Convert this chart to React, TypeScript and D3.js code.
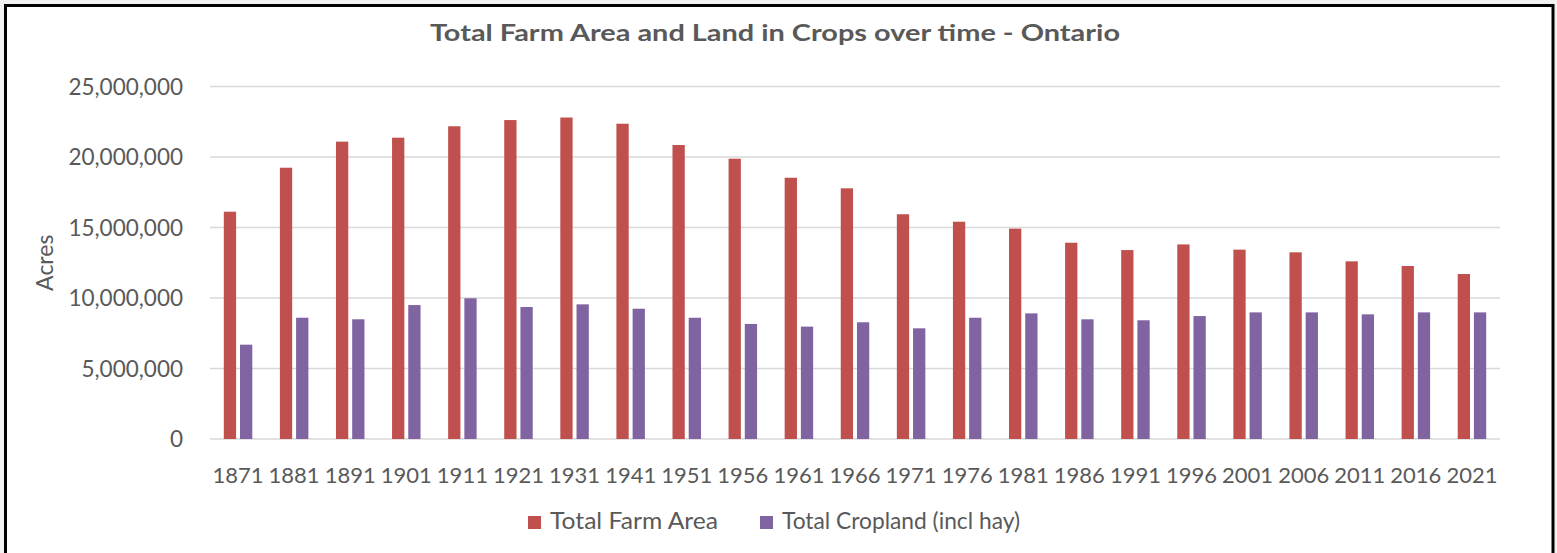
import React from "react";
import * as d3 from "d3";

const years = ["1871","1881","1891","1901","1911","1921","1931","1941","1951","1956","1961","1966","1971","1976","1981","1986","1991","1996","2001","2006","2011","2016","2021"];
const totalFarmArea = [16120000,19240000,21090000,21370000,22180000,22620000,22800000,22360000,20850000,19880000,18530000,17780000,15940000,15410000,14920000,13920000,13400000,13800000,13430000,13240000,12600000,12270000,11700000];
const totalCropland = [6690000,8600000,8490000,9500000,9980000,9360000,9550000,9240000,8600000,8160000,7970000,8280000,7850000,8600000,8910000,8490000,8420000,8720000,8980000,8980000,8840000,8980000,8980000];
const seriesNames = ["Total Farm Area", "Total Cropland (incl hay)"];
const seriesColors = ["#C0504D", "#8064A2"];
const yTicks = [0, 5000000, 10000000, 15000000, 20000000, 25000000];
const title = "Total Farm Area and Land in Crops over time - Ontario";
const yLabel = "Acres";

const W = 1557, H = 553;
const FONT = "Lato, 'Open Sans', sans-serif";
const TEXT = "#595959";

export default function App() {
  const left = 210, right = 1500, top = 86.5, bottom = 439;
  const x0 = d3.scaleBand<string>().domain(years).range([left, right]).padding(0);
  const bw = x0.bandwidth();
  const x1 = d3.scaleBand<string>().domain(seriesNames).range([bw * 0.246, bw * 0.754]).paddingInner(0.242);
  const y = d3.scaleLinear().domain([0, 25000000]).range([bottom, top]);
  const fmt = d3.format(",");
  const data = [totalFarmArea, totalCropland];

  return (
    <svg width={W} height={H} style={{ position: "absolute", left: 0, top: 0, display: "block" }} fontFamily={FONT}>
      <rect x={0} y={0} width={W} height={H} fill="#f2f2f0" />
      <rect x={5.5} y={5.5} width={1547.5} height={H} fill="#ffffff" stroke="#000" strokeWidth={3} />
      <text x={430} y={41} fontSize={23.5} fontWeight="bold" fill={TEXT} textLength={690} lengthAdjust="spacingAndGlyphs">{title}</text>
      {yTicks.map((t) => (
        <g key={t}>
          <line x1={left} x2={right} y1={y(t)} y2={y(t)} stroke="#d9d9d9" strokeWidth={1.3} />
          <text x={183} y={y(t) + 8} textAnchor="end" fontSize={22.5} fill={TEXT} textLength={fmt(t).length > 1 ? undefined : undefined}>{fmt(t)}</text>
        </g>
      ))}
      <text transform={`translate(53,${(top + bottom) / 2}) rotate(-90)`} textAnchor="middle" fontSize={23} fill={TEXT}>{yLabel}</text>
      {years.map((yr, i) => (
        <g key={yr}>
          {data.map((s, j) => (
            <rect key={j} x={(x0(yr) as number) + (x1(seriesNames[j]) as number)} y={y(s[i])} width={x1.bandwidth()} height={bottom - y(s[i])} fill={seriesColors[j]} />
          ))}
          <text x={(x0(yr) as number) + bw / 2} y={483} textAnchor="middle" fontSize={22} fill={TEXT}>{yr}</text>
        </g>
      ))}
      <g>
        <rect x={528} y={516} width={13} height={13} fill={seriesColors[0]} />
        <text x={550} y={529} fontSize={23} fill={TEXT} textLength={168} lengthAdjust="spacingAndGlyphs">{seriesNames[0]}</text>
        <rect x={760} y={516} width={13} height={13} fill={seriesColors[1]} />
        <text x={782} y={529} fontSize={23} fill={TEXT} textLength={238} lengthAdjust="spacingAndGlyphs">{seriesNames[1]}</text>
      </g>
    </svg>
  );
}
